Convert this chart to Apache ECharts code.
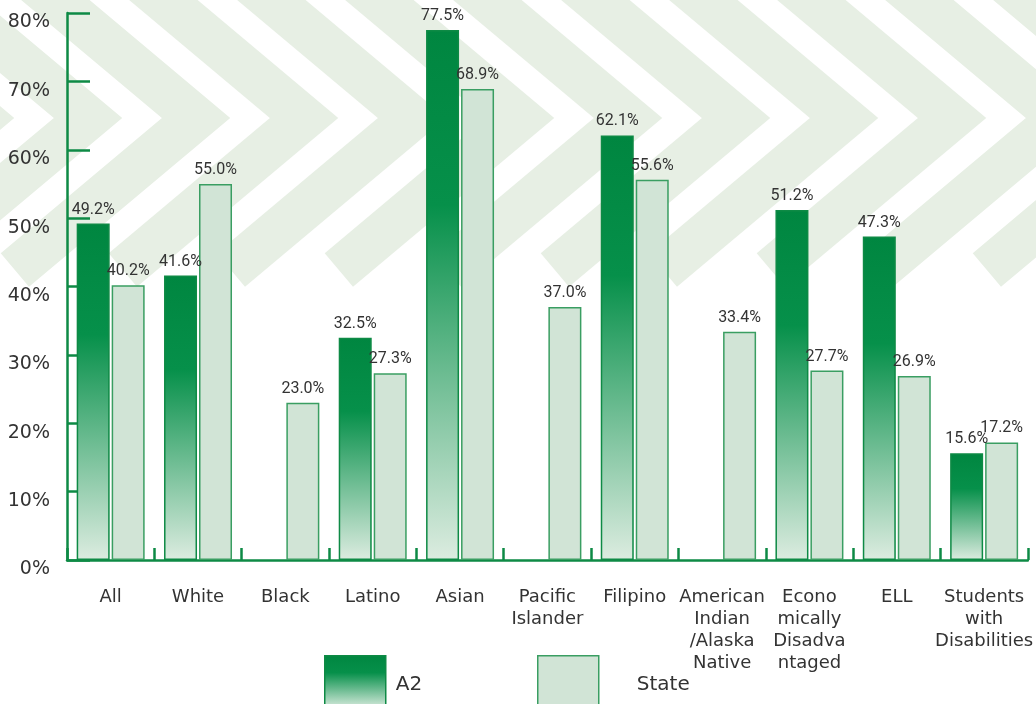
<!DOCTYPE html>
<html>
<head>
<meta charset="utf-8">
<script src="https://cdn.jsdelivr.net/npm/echarts@6/dist/echarts.min.js"></script>
<style>
html,body{margin:0;padding:0;background:#fff;overflow:hidden;}
#chart{width:1036px;height:704px;}
</style>
</head>
<body>
<div id="chart"></div>
<script>
var categories = ['All', 'White', 'Black', 'Latino', 'Asian', 'Pacific\nIslander', 'Filipino',
  'American\nIndian\n/Alaska\nNative', 'Econo\nmically\nDisadva\nntaged', 'ELL', 'Students\nwith\nDisabilities'];
var a2Values = [49.2, 41.6, null, 32.5, 77.5, null, 62.1, null, 51.2, 47.3, 15.6];
var stateValues = [40.2, 55.0, 23.0, 27.3, 68.9, 37.0, 55.6, 33.4, 27.7, 26.9, 17.2];
var seriesNames = ['A2', 'State'];
var yTicks = [0, 10, 20, 30, 40, 50, 60, 70, 80];

var chart = echarts.init(document.getElementById('chart'), null, {renderer: 'canvas', width: 1036, height: 704});

// decorative chevron background
var deco = [];
var tanA = Math.tan(40 * Math.PI / 180);
for (var k = -3; k <= 8; k++) {
  var ax = 304 + 108 * k, ay = 118;
  var up = 170, down = 152;
  deco.push({
    type: 'polyline',
    z: -10,
    silent: true,
    shape: {points: [[ax - up / tanA, ay - up], [ax, ay], [ax - down / tanA, ay + down]]},
    style: {stroke: '#e7efe4', lineWidth: 44, fill: null, lineJoin: 'miter', lineCap: 'butt'}
  });
}

var green = '#0e8a45';
var a2Gradient = new echarts.graphic.LinearGradient(0, 0, 0, 1, [
  {offset: 0, color: '#008640'},
  {offset: 0.33, color: '#06904a'},
  {offset: 1, color: '#dcece0'}
]);

function fmt(p) { return p.value == null ? '' : Number(p.value).toFixed(1) + '%'; }

var option = {
  backgroundColor: '#ffffff',
  animation: false,
  graphic: deco,
  grid: {left: 67, right: 3, top: 13, bottom: 144, containLabel: false},
  legend: [
    {
      data: [{name: seriesNames[0], icon: 'rect', itemStyle: {borderColor: green, borderWidth: 1.5}}],
      left: 324, top: 655, padding: 0, itemWidth: 61, itemHeight: 52, selectedMode: false,
      formatter: '{t|{name}}',
      textStyle: {fontFamily: 'DejaVu Sans', fontSize: 20, color: '#333',
        rich: {t: {fontFamily: 'DejaVu Sans', fontSize: 20, color: '#333', padding: [6, 0, 0, 5]}}}
    },
    {
      data: [{name: seriesNames[1], icon: 'rect', itemStyle: {borderColor: '#3a9e62', borderWidth: 1.5}}],
      left: 537, top: 655, padding: 0, itemWidth: 61, itemHeight: 52, selectedMode: false,
      formatter: '{t|{name}}',
      textStyle: {fontFamily: 'DejaVu Sans', fontSize: 20, color: '#333',
        rich: {t: {fontFamily: 'DejaVu Sans', fontSize: 20, color: '#333', padding: [6, 0, 0, 33]}}}
    }
  ],
  xAxis: {
    type: 'category',
    data: categories,
    axisLine: {show: true, lineStyle: {color: green, width: 2.5}},
    axisTick: {show: true, inside: true, length: 12, lineStyle: {color: green, width: 2.5}},
    axisLabel: {
      interval: 0, margin: 26, fontFamily: 'DejaVu Sans', fontSize: 18, lineHeight: 22,
      color: '#333', align: 'center'
    },
    splitLine: {show: false}
  },
  yAxis: {
    type: 'value',
    min: yTicks[0], max: yTicks[yTicks.length - 1], interval: 10,
    axisLine: {show: true, lineStyle: {color: green, width: 2.5}},
    axisTick: {show: true, inside: true, length: 23, lineStyle: {color: green, width: 2.5}},
    axisLabel: {
      formatter: '{value}%', margin: 17, fontFamily: 'DejaVu Sans', fontSize: 19, color: '#333',
      verticalAlign: 'top'
    },
    splitLine: {show: false}
  },
  series: [
    {
      name: seriesNames[0],
      type: 'bar',
      data: a2Values,
      barWidth: 33,
      barGap: '6%',
      itemStyle: {color: a2Gradient, borderColor: green, borderWidth: 1.5},
      label: {
        show: true, position: 'top', distance: 6, formatter: fmt,
        fontFamily: 'Roboto', fontSize: 16, color: '#333'
      }
    },
    {
      name: seriesNames[1],
      type: 'bar',
      data: stateValues,
      barWidth: 33,
      itemStyle: {color: '#d1e4d6', borderColor: '#3a9e62', borderWidth: 1.5},
      label: {
        show: true, position: 'top', distance: 6, formatter: fmt,
        fontFamily: 'Roboto', fontSize: 16, color: '#333'
      }
    }
  ]
};
chart.setOption(option);
</script>
</body>
</html>
